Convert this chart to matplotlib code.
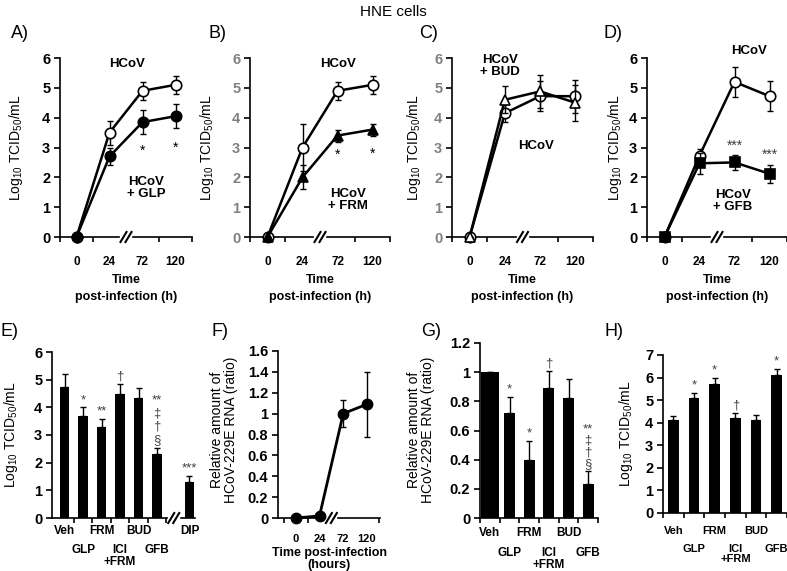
import numpy as np
import matplotlib.pyplot as plt
from matplotlib.transforms import blended_transform_factory as blend

plt.rcParams['font.family'] = ['Liberation Sans', 'DejaVu Sans']
plt.rcParams['mathtext.fontset'] = 'custom'
plt.rcParams['mathtext.rm'] = 'Liberation Sans'
plt.rcParams['mathtext.bf'] = 'Liberation Sans:bold'

W, H = 787, 571
LW = 1.2

# time course panels (A-D)
hours = ['0', '24', '72', '120']

a_hcov = [0, 3.5, 4.9, 5.1]
a_hcov_err = [0, 0.4, 0.3, 0.3]
a_glp = [0, 2.7, 3.85, 4.05]
a_glp_err = [0, 0.3, 0.4, 0.4]

b_hcov = [0, 3.0, 4.9, 5.1]
b_hcov_err = [0, 0.8, 0.3, 0.3]
b_frm = [0, 2.0, 3.4, 3.6]
b_frm_err = [0, 0.4, 0.2, 0.2]

c_hcov = [0, 4.15, 4.72, 4.72]
c_hcov_err = [0, 0.3, 0.5, 0.55]
c_bud = [0, 4.6, 4.88, 4.5]
c_bud_err = [0, 0.45, 0.55, 0.6]

d_hcov = [0, 2.73, 5.2, 4.72]
d_hcov_err = [0, 0.22, 0.5, 0.5]
d_gfb = [0, 2.47, 2.5, 2.12]
d_gfb_err = [0, 0.35, 0.25, 0.3]

# bar panels (E, G, H) and RNA time course (F)
drugs = ['Veh', 'GLP', 'FRM', 'ICI\n+FRM', 'BUD', 'GFB']

e_titer = [4.75, 3.7, 3.28, 4.5, 4.35, 2.32]
e_err = [0.45, 0.3, 0.3, 0.35, 0.35, 0.22]
e_marks = ['', '*', '**', '†', '', '**\n‡\n†\n§']
dip_titer = [1.3]
dip_err = [0.22]
dip_marks = ['***']

f_rna = [0, 0.02, 1.0, 1.09]
f_err = [0, 0, 0.13, 0.31]

g_rna = [1.0, 0.72, 0.4, 0.89, 0.82, 0.23]
g_err = [0, 0.11, 0.13, 0.12, 0.13, 0.09]
g_marks = ['', '*', '*', '†', '', '**\n‡\n†\n§']

h_titer = [4.12, 5.1, 5.7, 4.2, 4.12, 6.1]
h_err = [0.18, 0.22, 0.3, 0.25, 0.22, 0.3]
h_marks = ['', '*', '*', '†', '', '*']

LOG_LABEL = r'Log$_{\mathrm{10}}$ TCID$_{\mathrm{50}}$/mL'
RNA_LABEL = 'Relative amount of\nHCoV-229E RNA (ratio)'

fig = plt.figure(figsize=(W / 100, H / 100), dpi=100)


def px_axes(box):
    left, top, right, bottom = box
    ax = fig.add_axes([left / W, 1 - bottom / H, (right - left) / W, (bottom - top) / H])
    ax.spines['top'].set_visible(False)
    ax.spines['right'].set_visible(False)
    ax.spines['left'].set_linewidth(LW)
    ax.spines['bottom'].set_linewidth(LW)
    ax.tick_params(axis='y', direction='out', length=4, width=LW, pad=3, labelsize=10.5)
    ax.tick_params(axis='x', which='major', length=0, labelbottom=False)
    ax.tick_params(axis='x', which='minor', direction='out', length=3.5, width=LW)
    ax.patch.set_alpha(0)
    return ax


def ftext(x, y, s, **kw):
    # x, y are figure pixels from the top left
    kw.setdefault('ha', 'center')
    kw.setdefault('va', 'center')
    fig.text(x / W, 1 - y / H, s, **kw)


def set_yticks(ax, ticks, color='k'):
    ax.set_yticks(ticks)
    ax.set_yticklabels([f'{t:g}' for t in ticks], fontweight='bold', color=color)


def xlabels(ax, xs, labels, ytop, size=8.5):
    tr = blend(ax.transData, fig.transFigure)
    for x, lab in zip(xs, labels):
        ax.text(x, 1 - ytop / H, lab, transform=tr, ha='center', va='top',
                fontsize=size, fontweight='bold', linespacing=1.0)


def axis_break(ax, xb, box, gap=7):
    left, top, right, bottom = box
    x0, x1 = ax.get_xlim()
    ppx = (right - left) / (x1 - x0)
    hpx = bottom - top
    ax.spines['bottom'].set_visible(False)
    tr = blend(ax.transData, ax.transAxes)
    g = gap / ppx
    ax.plot([x0, xb - g], [0, 0], color='k', lw=LW, transform=tr, clip_on=False)
    ax.plot([xb + g, x1], [0, 0], color='k', lw=LW, transform=tr, clip_on=False)
    for off in (-2.5, 2.5):
        xc = xb + off / ppx
        ax.plot([xc - 3 / ppx, xc + 3 / ppx], [-5 / hpx, 5 / hpx], color='k', lw=1.5,
                transform=tr, clip_on=False)


def marks(ax, xs, tops, labels, spacing=1.0, color='#404040'):
    for x, t, s in zip(xs, tops, labels):
        if s:
            ax.annotate(s, (x, t), xytext=(0, 1), textcoords='offset points', ha='center',
                        va='bottom', fontsize=9.5, color=color, linespacing=spacing)


def line_panel(box, hcov, hcov_err, trt, trt_err, mk, filled, tick_color='k'):
    ax = px_axes(box)
    x = np.arange(len(hours))
    ax.set_xlim(-0.5, 3.5)
    ax.set_ylim(0, 6)
    series = [(hcov, hcov_err, 'o', 'white', 3), (trt, trt_err, mk, 'k' if filled else 'white', 4)]
    for y, e, m, fc, z in series:
        ax.errorbar(x, y, yerr=e, fmt='none', ecolor='k', elinewidth=1, capsize=2.5,
                    capthick=1, zorder=z)
        ax.plot(x, y, color='k', lw=1.8, marker=m, ms=7.5, mfc=fc, mec='k', mew=1.2,
                zorder=z, clip_on=False)
    set_yticks(ax, range(7), tick_color)
    ax.set_xticks([-0.5, 0.5, 2.5, 3.5], minor=True)
    axis_break(ax, 1.5, box)
    xlabels(ax, x, hours, 256)
    cx = (box[0] + box[2]) / 2
    ftext(cx, 280, 'Time', fontsize=9, fontweight='bold')
    ftext(cx, 297, 'post-infection (h)', fontsize=9, fontweight='bold')
    return ax


bold = dict(fontsize=9.5, fontweight='bold', linespacing=1.1)

# ---- top row ----
boxA = (60, 58, 192, 237)
axA = line_panel(boxA, a_hcov, a_hcov_err, a_glp, a_glp_err, 'o', True)
axA.text(2, 2.9, '*', ha='center', va='center', fontsize=10)
axA.text(3, 3.0, '*', ha='center', va='center', fontsize=10)
ftext(127, 64, 'HCoV', **bold)
ftext(146, 188, 'HCoV\n+ GLP', **bold)

boxB = (250, 58, 390, 237)
axB = line_panel(boxB, b_hcov, b_hcov_err, b_frm, b_frm_err, '^', True, '#808080')
axB.text(2, 2.75, '*', ha='center', va='center', fontsize=10)
axB.text(3, 2.8, '*', ha='center', va='center', fontsize=10)
ftext(338, 64, 'HCoV', **bold)
ftext(348, 200, 'HCoV\n+ FRM', **bold)

boxC = (452, 58, 593, 237)
axC = line_panel(boxC, c_hcov, c_hcov_err, c_bud, c_bud_err, '^', False, '#808080')
ftext(500, 66, 'HCoV\n+ BUD', **bold)
ftext(536, 146, 'HCoV', **bold)

boxD = (647, 58, 787, 237)
axD = line_panel(boxD, d_hcov, d_hcov_err, d_gfb, d_gfb_err, 's', True)
axD.text(2, 3.05, '***', ha='center', va='center', fontsize=10, color='#404040')
axD.text(3, 2.75, '***', ha='center', va='center', fontsize=10, color='#404040')
ftext(749, 51, 'HCoV', **bold)
ftext(733, 201, 'HCoV\n+ GFB', **bold)

for xp in (16, 207, 414, 615):
    ftext(xp, 148, LOG_LABEL, rotation=90, fontsize=10)
for xp, s in zip((20, 217, 429, 613), ('A)', 'B)', 'C)', 'D)')):
    ftext(xp, 34, s, fontsize=13)

ftext(393, 12, 'HNE cells', fontsize=11)

bar_kw = dict(color='k', capsize=2.5, error_kw=dict(elinewidth=1, capthick=1))

# ---- E ----
boxE = (52, 352, 195, 518)
axE = px_axes(boxE)
xe = np.arange(len(drugs))
xdip = np.array([len(drugs) + 0.75])
axE.set_xlim(-0.68, 7.05)
axE.set_ylim(0, 6)
axE.bar(xe, e_titer, width=0.5, yerr=[np.zeros(len(e_err)), e_err], **bar_kw)
axE.bar(xdip, dip_titer, width=0.5, yerr=[[0], dip_err], **bar_kw)
marks(axE, xe, np.add(e_titer, e_err), e_marks, spacing=1.15)
marks(axE, xdip, np.add(dip_titer, dip_err), dip_marks)
set_yticks(axE, range(7))
axE.set_xticks(np.arange(0.5, 6), minor=True)
axis_break(axE, 5.9, boxE)
xlabels(axE, list(xe[::2]) + list(xdip), drugs[::2] + ['DIP'], 525)
xlabels(axE, xe[1::2], drugs[1::2], 544)
ftext(11, 435, LOG_LABEL, rotation=90, fontsize=10)
ftext(9, 332, 'E)', fontsize=13)

# ---- F ----
boxF = (278, 351, 380, 518)
axF = px_axes(boxF)
xf = np.arange(len(hours))
axF.set_xlim(-0.75, 3.55)
axF.set_ylim(0, 1.6)
axF.errorbar(xf, f_rna, yerr=f_err, fmt='none', ecolor='k', elinewidth=1, capsize=2.5, capthick=1)
axF.plot(xf, f_rna, color='k', lw=2, marker='o', ms=7.5, zorder=3, clip_on=False)
set_yticks(axF, np.round(np.arange(0, 1.61, 0.2), 1))
axF.set_xticks([-0.5, 0.5, 2.5, 3.5], minor=True)
axis_break(axF, 1.5, boxF)
xlabels(axF, xf, hours, 534, size=8)
ftext(329, 553, 'Time post-infection', fontsize=9, fontweight='bold')
ftext(329, 565, '(hours)', fontsize=9, fontweight='bold')
ftext(224, 430, RNA_LABEL, rotation=90, fontsize=10, linespacing=1.0)
ftext(220, 332, 'F)', fontsize=13)

# ---- G ----
boxG = (480, 343, 598, 518)
axG = px_axes(boxG)
xg = np.arange(len(drugs))
axG.set_xlim(-0.5, 5.5)
axG.set_ylim(0, 1.2)
axG.bar(xg, g_rna, width=[0.92, 0.55, 0.55, 0.55, 0.55, 0.55],
        yerr=[np.zeros(len(g_err)), g_err], **bar_kw)
marks(axG, xg, np.add(g_rna, g_err), g_marks, spacing=0.95)
set_yticks(axG, np.round(np.arange(0, 1.21, 0.2), 1))
axG.set_xticks(np.arange(-0.5, 6), minor=True)
xlabels(axG, xg[::2], drugs[::2], 527)
xlabels(axG, xg[1::2], drugs[1::2], 547)
ftext(421, 430, RNA_LABEL, rotation=90, fontsize=10, linespacing=1.0)
ftext(431, 332, 'G)', fontsize=13)

# ---- H ----
boxH = (663, 355, 787, 513)
axH = px_axes(boxH)
xh = np.arange(len(drugs))
axH.set_xlim(-0.5, 5.5)
axH.set_ylim(0, 7)
axH.bar(xh, h_titer, width=0.52, yerr=[np.zeros(len(h_err)), h_err], **bar_kw)
marks(axH, xh, np.add(h_titer, h_err), h_marks)
set_yticks(axH, range(8))
axH.set_xticks(np.arange(-0.5, 6), minor=True)
xlabels(axH, xh[::2], drugs[::2], 526, size=8)
xlabels(axH, xh[1::2], drugs[1::2], 544, size=8)
ftext(626, 434, LOG_LABEL, rotation=90, fontsize=10)
ftext(614, 332, 'H)', fontsize=13)

fig.savefig('out.png', dpi=100)
